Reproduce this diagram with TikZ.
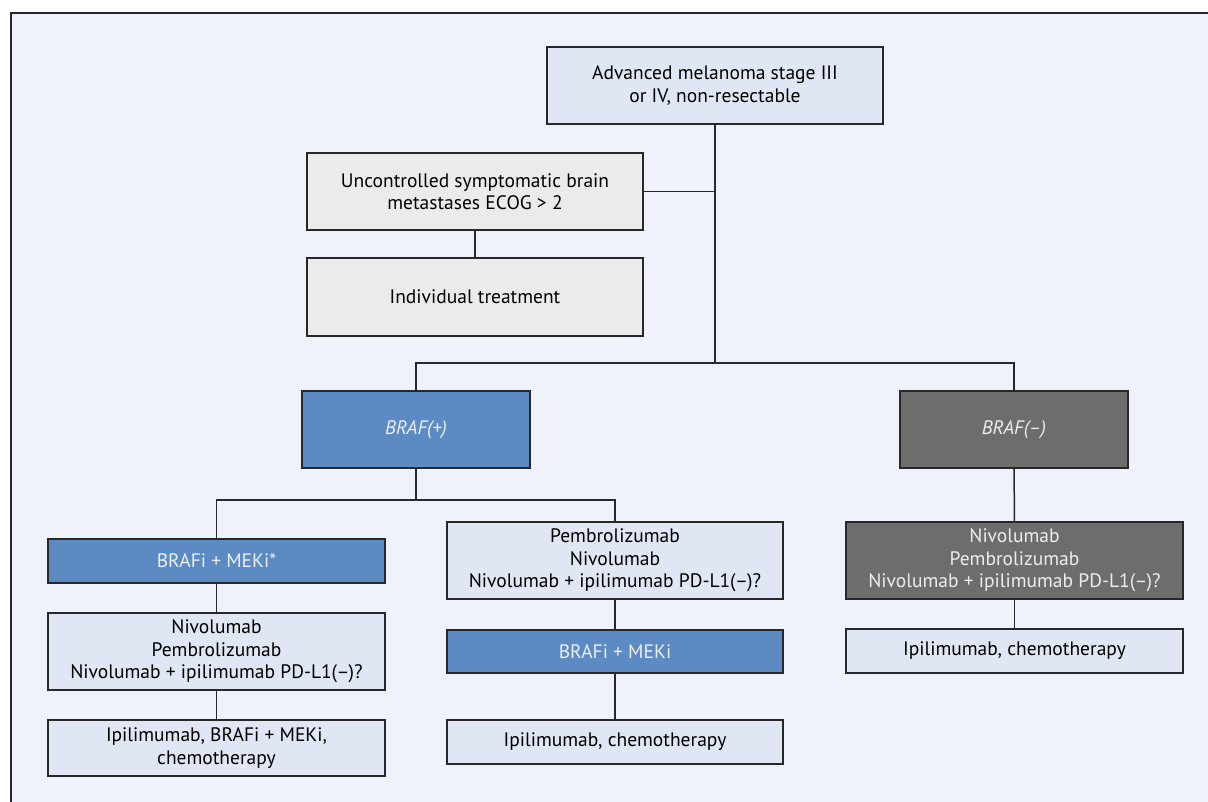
\documentclass[tikz,border=0pt]{standalone}
\usepackage{fontspec}
\setmainfont{PT Sans}
\usepackage{tikz}
\usetikzlibrary{positioning,calc}
\usepackage{xcolor}
\definecolor{bgpanel}{RGB}{239,242,251}
\definecolor{lightbox}{RGB}{224,230,243}
\definecolor{greybox}{RGB}{235,235,235}
\definecolor{bluebox}{RGB}{91,139,194}
\definecolor{darkbox}{RGB}{109,109,107}
\definecolor{edge}{RGB}{40,40,40}

\begin{document}
\begin{tikzpicture}[
    x=1pt, y=-1pt,
    font=\fontsize{19.5}{22.3}\selectfont,
    box/.style={draw=edge, line width=1.6pt, inner sep=0pt, align=center, minimum width=336pt, minimum height=77pt},
    light/.style={box, fill=lightbox},
    grey/.style={box, fill=greybox},
    blue/.style={box, fill=bluebox, text=white!93!black},
    dark/.style={box, fill=darkbox, text=white!93!black},
    link/.style={draw=edge, line width=1.5pt}
]
    % Panel background
    \clip (0,0) rectangle (1208,802);
    \fill[bgpanel] (11,13) rectangle (1220,815);
    \draw[edge, line width=1.8pt] (11,815) -- (11,13) -- (1220,13);

    % Top of the tree
    \node[light] (adv) at (715,85.5) {Advanced melanoma stage III\\or IV, non-resectable};
    \node[grey] (brain) at (475,191.5) {Uncontrolled symptomatic brain\\metastases ECOG > 2};
    \node[grey, minimum height=78pt] (indiv) at (475,297) {Individual treatment};

    % BRAF status
    \node[blue, minimum width=228pt] (brafpos) at (416,429.5) {\itshape BRAF(+)};
    \node[dark, minimum width=228pt] (brafneg) at (1014,429.5) {\itshape BRAF(--)};

    % BRAF(+) left column
    \node[blue, minimum width=337pt, minimum height=44pt] (bmekA) at (216.5,561) {BRAFi + MEKi*};
    \node[light, minimum width=337pt] (nivoA) at (216.5,651.5) {Nivolumab\\Pembrolizumab\\Nivolumab + ipilimumab PD-L1(--)?};
    \node[light, minimum width=337pt, minimum height=56pt] (ipiA) at (216.5,748) {Ipilimumab, BRAFi + MEKi,\\chemotherapy};

    % BRAF(+) middle column
    \node[light] (pembroB) at (615,560.5) {Pembrolizumab\\Nivolumab\\Nivolumab + ipilimumab PD-L1(--)?};
    \node[blue, minimum height=43pt] (bmekB) at (615,651.5) {BRAFi + MEKi};
    \node[light, minimum height=44pt] (ipiB) at (615,742) {Ipilimumab, chemotherapy};

    % BRAF(-) column
    \node[dark, minimum width=337pt] (nivoC) at (1014.5,560.5) {Nivolumab\\Pembrolizumab\\Nivolumab + ipilimumab PD-L1(--)?};
    \node[light, minimum width=337pt, minimum height=44pt] (ipiC) at (1014.5,651) {Ipilimumab, chemotherapy};

    % Branch points
    \coordinate (split) at (715,363);
    \coordinate (splitpos) at (416,500);

    % Connectors
    \draw[link] (adv) -- (split);
    \draw[link] (brain.east) -- (brain.east -| split);
    \draw[link] (brain) -- (indiv);
    \draw[link] (split) -| (brafpos);
    \draw[link] (split) -| (brafneg);
    \draw[link] (brafpos) -- (splitpos);
    \draw[link] (splitpos) -| (bmekA);
    \draw[link] (splitpos) -| (pembroB);
    \draw[link] (bmekA) -- (nivoA);
    \draw[link] (nivoA) -- (ipiA);
    \draw[link] (pembroB) -- (bmekB);
    \draw[link] (bmekB) -- (ipiB);
    \draw[link] (brafneg) -- (nivoC);
    \draw[link] (nivoC) -- (ipiC);

\end{tikzpicture}
\end{document}
